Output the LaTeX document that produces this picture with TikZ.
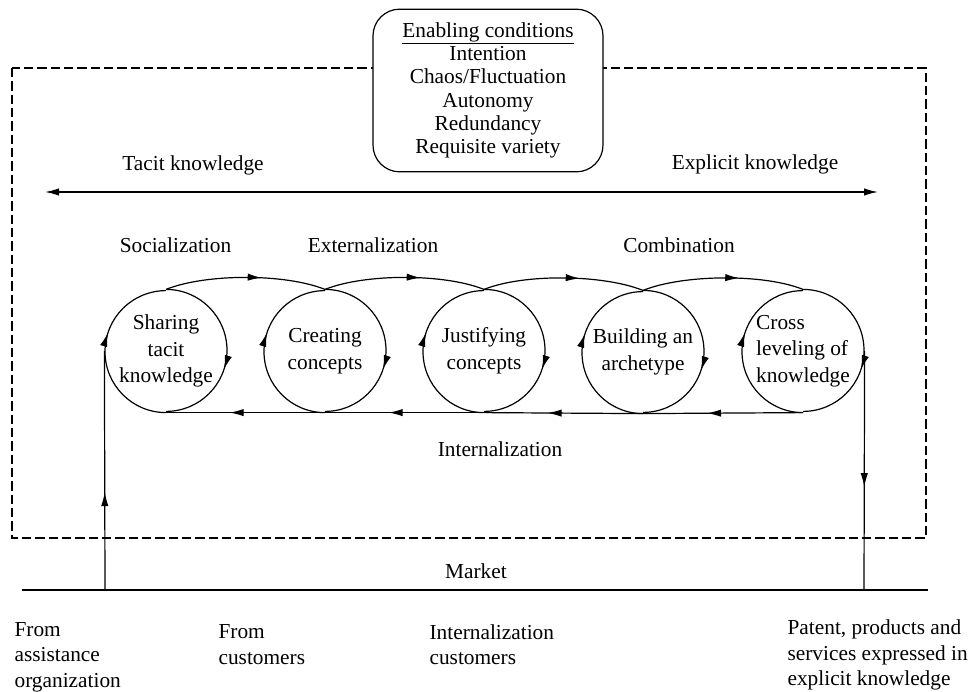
\documentclass[tikz,border=0pt]{standalone}
\usepackage{fontspec}
\setmainfont{Liberation Serif}
\usetikzlibrary{arrows.meta,decorations.markings}
\begin{document}
\begin{tikzpicture}[x=0.75pt,y=-0.75pt,line width=0.9pt,
  >={Latex[length=10.5pt,width=5.5pt]},
  every node/.style={font=\fontsize{16}{19}\selectfont},
  midarr/.style={postaction={decorate,decoration={markings,mark=at position #1 with {\arrow{Latex[length=10.5pt,width=5.5pt]}}}}},
  stage/.style={circle,minimum size=91.5pt,inner sep=0pt,align=center,font=\fontsize{16}{20}\selectfont},
  lbl/.style={inner sep=0pt},
  btxt/.style={inner sep=0pt,anchor=west,align=left,font=\fontsize{16}{19}\selectfont},
  dashbox/.style={dash pattern=on 7pt off 3pt,line width=0.8pt}]
\useasboundingbox (0,0) rectangle (968,692);
% dashed frame
\draw[dashbox] (12,68) rectangle (926,538);
% enabling conditions
\node[draw,fill=white,rounded corners=20pt,minimum width=172.5pt,minimum height=122pt,inner sep=0pt,align=center,font=\fontsize{16}{17.5}\selectfont] (enable) at (488,90.5)
 {\underline{Enabling conditions}\\Intention\\Chaos/Fluctuation\\Autonomy\\Redundancy\\Requisite variety};
% tacit / explicit
\node[lbl] (tacit) at (193,165) {Tacit knowledge};
\node[lbl] (explicit) at (755,164) {Explicit knowledge};
\coordinate (t1) at (45,192);
\coordinate (t2) at (878,192);
\draw[<->] (t1) -- (t2);
% mode labels
\node[lbl] (soc) at (175.5,245) {Socialization};
\node[lbl] (ext) at (373,245) {Externalization};
\node[lbl] (comb) at (679,245) {Combination};
\node[lbl] (int) at (500,449) {Internalization};
% circles
\node[stage] (c1) at (166,351) {Sharing\\tacit\\knowledge};
\node[stage] (c2) at (325,351) {Creating\\concepts};
\node[stage] (c3) at (484,351) {Justifying\\concepts};
\node[stage] (c4) at (643,352) {Building an\\archetype};
\node[stage,align=left] (c5) at (803,351) {Cross\\leveling of\\knowledge};
\foreach \c in {c1,c2,c3,c4,c5}{
  \draw[midarr=0.6] (\c.north) arc[start angle=90,end angle=-90,radius=45.75pt];
  \draw[midarr=0.6] (\c.south) arc[start angle=-90,end angle=-270,radius=45.75pt];
}
% top arcs
\foreach \a/\b in {c1/c2,c2/c3,c3/c4,c4/c5}{
  \draw[midarr=0.6] (\a.north) .. controls +(40,-16) and +(-40,-16) .. (\b.north);
}
% bottom line
\foreach \a/\b in {c5/c4,c4/c3,c3/c2,c2/c1}{
  \draw[midarr=0.6] (\a.south) -- (\b.south);
}
% market
\coordinate (mL) at (22,590);
\coordinate (mR) at (928,590);
\draw (mL) -- (mR);
\node[lbl] (market) at (476,571) {Market};
\coordinate (m1) at (105,590);
\coordinate (m2) at (864,590);
\draw[midarr=0.41] (m1) -- (c1.west);
\draw[midarr=0.57] (c5.east) -- (m2);
% bottom texts
\node[btxt] (b1) at (14,657) {From\\assistance\\organization};
\node[btxt] (b2) at (218,644.5) {From\\customers};
\node[btxt] (b3) at (429,644.5) {Internalization\\customers};
\node[btxt] (b4) at (787,655) {Patent, products and\\services expressed in\\explicit knowledge};
\end{tikzpicture}
\end{document}
